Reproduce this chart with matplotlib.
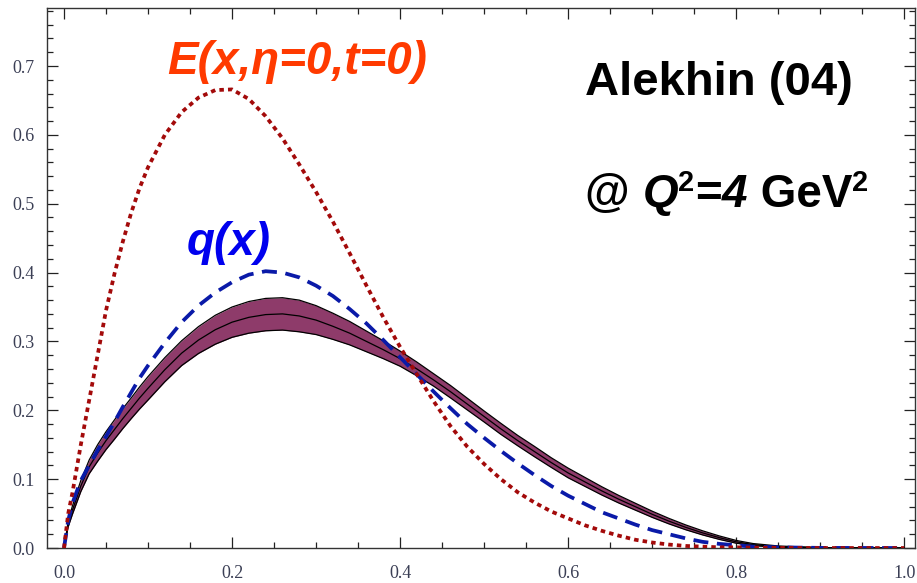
import numpy as np
import matplotlib.pyplot as plt
from matplotlib.ticker import MultipleLocator, FormatStrFormatter

# values
x_vals = [0.0, 0.005, 0.01, 0.02, 0.03, 0.04, 0.05, 0.06, 0.07, 0.08, 0.09, 0.10,
          0.12, 0.14, 0.16, 0.18, 0.20, 0.22, 0.24, 0.26, 0.28, 0.30, 0.32, 0.34,
          0.36, 0.38, 0.40, 0.42, 0.44, 0.46, 0.48, 0.50, 0.52, 0.54, 0.56, 0.58,
          0.60, 0.62, 0.64, 0.66, 0.68, 0.70, 0.72, 0.74, 0.76, 0.78, 0.80, 0.82,
          0.85, 0.90, 1.0]

# E(x, eta=0, t=0), red dotted
e_vals = [0.0, 0.05, 0.08, 0.15, 0.215, 0.28, 0.345, 0.398, 0.445, 0.487, 0.523, 0.553,
          0.600, 0.633, 0.654, 0.665, 0.666, 0.652, 0.627, 0.595, 0.557, 0.517, 0.474, 0.428,
          0.381, 0.335, 0.292, 0.252, 0.213, 0.177, 0.147, 0.122, 0.100, 0.081, 0.066, 0.053,
          0.043, 0.033, 0.025, 0.018, 0.012, 0.008, 0.005, 0.003, 0.002, 0.001, 0.001, 0.0005,
          0.0002, 0.0, 0.0]

# q(x), blue dashed
q_vals = [0.0, 0.04, 0.065, 0.098, 0.12, 0.142, 0.162, 0.183, 0.205, 0.226, 0.247, 0.265,
          0.298, 0.328, 0.352, 0.371, 0.386, 0.397, 0.402, 0.400, 0.393, 0.381, 0.366, 0.347,
          0.326, 0.302, 0.277, 0.252, 0.227, 0.203, 0.180, 0.160, 0.141, 0.123, 0.106, 0.090,
          0.076, 0.064, 0.052, 0.043, 0.034, 0.026, 0.020, 0.014, 0.009, 0.006, 0.004, 0.002,
          0.001, 0.0002, 0.0]

# Alekhin (04) band: central value and half width
band_mid = [0.0, 0.035, 0.055, 0.09, 0.118, 0.138, 0.156, 0.172, 0.188, 0.203, 0.218, 0.232,
            0.259, 0.283, 0.302, 0.317, 0.328, 0.335, 0.339, 0.340, 0.337, 0.331, 0.322, 0.312,
            0.300, 0.288, 0.275, 0.260, 0.244, 0.227, 0.209, 0.191, 0.173, 0.156, 0.140, 0.124,
            0.109, 0.096, 0.083, 0.071, 0.060, 0.049, 0.039, 0.030, 0.022, 0.015, 0.009, 0.005,
            0.002, 0.0005, 0.0]

band_half = [0.0, 0.004, 0.006, 0.008, 0.010, 0.012, 0.013, 0.014, 0.0145, 0.015, 0.016, 0.017,
             0.0175, 0.018, 0.0195, 0.021, 0.022, 0.023, 0.0235, 0.0235, 0.023, 0.021, 0.019, 0.017,
             0.015, 0.013, 0.011, 0.010, 0.009, 0.009, 0.0085, 0.008, 0.008, 0.0075, 0.0075, 0.007,
             0.007, 0.0065, 0.006, 0.0055, 0.005, 0.0045, 0.004, 0.0035, 0.003, 0.0025, 0.002, 0.0015,
             0.001, 0.0, 0.0]

band_hi = np.array(band_mid) + np.array(band_half)
band_lo = np.array(band_mid) - np.array(band_half)

fig = plt.figure(figsize=(9.17, 5.83), dpi=100, facecolor="white")
ax = fig.add_axes([0.0513, 0.060, 0.9467, 0.926])

ax.fill_between(x_vals, band_lo, band_hi, color="#8e3b6a", lw=0, zorder=2)
ax.plot(x_vals, band_hi, color="black", lw=0.9, zorder=3)
ax.plot(x_vals, band_lo, color="black", lw=0.9, zorder=3)
ax.plot(x_vals, band_mid, color="black", lw=0.9, zorder=3)

ax.plot(x_vals, q_vals, color="#0a1aa8", lw=2.7, dashes=(4, 2.3), zorder=4)
ax.plot(x_vals, e_vals, color="#a30a0a", lw=2.7, dashes=(1.2, 1.1), zorder=5)

ax.set_xlim(-0.0202, 1.013)
ax.set_ylim(0, 0.784)

ax.xaxis.set_major_locator(MultipleLocator(0.2))
ax.xaxis.set_minor_locator(MultipleLocator(0.05))
ax.yaxis.set_major_locator(MultipleLocator(0.1))
ax.yaxis.set_minor_locator(MultipleLocator(0.02))
ax.xaxis.set_major_formatter(FormatStrFormatter("%.1f"))
ax.yaxis.set_major_formatter(FormatStrFormatter("%.1f"))

ax.tick_params(which="both", direction="in", top=True, right=True,
               color="#222222", width=0.9)
ax.tick_params(which="major", length=8)
ax.tick_params(which="minor", length=4.5)
ax.tick_params(axis="x", which="major", pad=12)
ax.tick_params(axis="y", which="major", pad=9)
for lab in ax.get_xticklabels() + ax.get_yticklabels():
    lab.set_family("Liberation Serif")
    lab.set_fontsize(13)
    lab.set_color("#3b3f55")

for spine in ax.spines.values():
    spine.set_color("#333333")
    spine.set_linewidth(1.0)

big = dict(fontsize=33, fontweight="bold", family="Liberation Sans")

ax.text(0.277, 0.706, "E(x,η=0,t=0)", color="#ff3a00", fontstyle="italic",
        ha="center", va="center", **big)
ax.text(0.196, 0.443, "q(x)", color="#0000ee", fontstyle="italic",
        ha="center", va="center", **big)

ax.text(0.62, 0.676, "Alekhin (04)", color="black", ha="left", va="center",
        fontsize=34, fontweight="bold", family="Liberation Sans")

# "@ Q²=4 GeV²" put together piece by piece (italic Q and 4)
sup = dict(fontsize=21, fontweight="bold", family="Liberation Sans",
           ha="left", va="top", color="black")
t_at = ax.text(0.62, 0.512, "@ ", color="black", ha="left", va="center", **big)
t_q = ax.annotate("Q", xy=(1, 0), xycoords=t_at, ha="left", va="bottom",
                  fontstyle="italic", **big)
t_s1 = ax.annotate("2", xy=(1, 1), xycoords=t_q, xytext=(0, 3),
                   textcoords="offset points", **sup)
t_eq = ax.annotate("=", xy=(1, 0), xycoords=(t_s1, t_q), xytext=(1, 0),
                   textcoords="offset points", ha="left", va="bottom", **big)
t_4 = ax.annotate("4", xy=(1, 0), xycoords=t_eq, ha="left", va="bottom",
                  fontstyle="italic", **big)
t_gev = ax.annotate(" GeV", xy=(1, 0), xycoords=t_4, ha="left", va="bottom", **big)
ax.annotate("2", xy=(1, 1), xycoords=t_gev, xytext=(0, 3),
            textcoords="offset points", **sup)

fig.savefig("out.png", dpi=100)
